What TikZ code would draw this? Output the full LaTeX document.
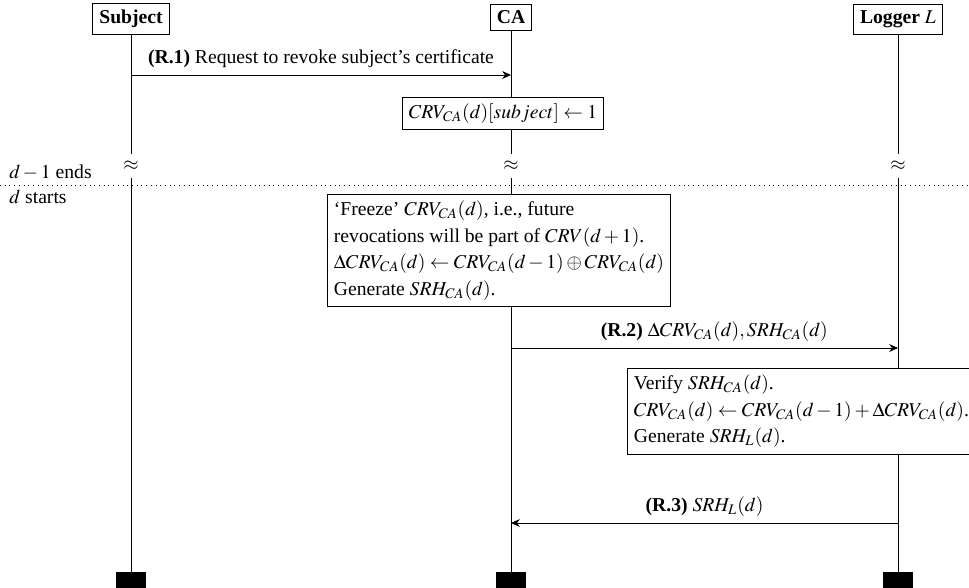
\documentclass[tikz,border=0pt]{standalone}
\usepackage{mathptmx}
\usepackage[no-math]{fontspec}
\setmainfont{Liberation Serif}
\usetikzlibrary{arrows.meta}
\begin{document}
\begin{tikzpicture}[x=0.509pt,y=-0.509pt,
  inst/.style={draw,fill=white,font=\bfseries,anchor=base},
  msg/.style={-{Stealth[length=4.5pt,width=4pt]}},
  actbox/.style={draw,fill=white,align=left,font=\fontsize{10}{13.5}\selectfont},
  endblock/.style={fill=black,anchor=north,minimum width=15pt,minimum height=10pt,inner sep=0pt},
  brk/.style={inner sep=0pt},
  daylabel/.style={anchor=base west,inner sep=0pt},
]
\useasboundingbox (0,0) rectangle (969,587);
\clip (0,0) rectangle (969,587);

% instances
\node[inst] (subj) at (131,23.5) {Subject};
\node[inst] (ca)   at (511,23.5) {CA};
\node[inst] (log)  at (898,23.5) {Logger $L$};

% lifeline breaks and ends
\coordinate (subjA) at (131,154);
\coordinate (caA)   at (511,154);
\coordinate (logA)  at (898,154);
\coordinate (subjB) at (131,178);
\coordinate (caB)   at (511,178);
\coordinate (logB)  at (898,178);
\node[brk] (subjW) at (131,166) {$\approx$};
\node[brk] (caW)   at (511,166) {$\approx$};
\node[brk] (logW)  at (898,166) {$\approx$};
\node[endblock] (subjEnd) at (131,572) {};
\node[endblock] (caEnd)   at (511,572) {};
\node[endblock] (logEnd)  at (898,572) {};

\draw (subj) -- (subjA);
\draw (ca)   -- (caA);
\draw (log)  -- (logA);
\draw (subjB) -- (subjEnd);
\draw (caB)   -- (caEnd);
\draw (logB)  -- (logEnd);

% day boundary
\coordinate (dayL) at (0,185);
\coordinate (dayR) at (969,185);
\draw[dotted] (dayL) -- (dayR);
\node[daylabel] (ends)   at (9,178) {$d-1$ ends};
\node[daylabel] (starts) at (9,203) {$d$ starts};

% (R.1)
\coordinate (r1s) at (131,75);
\coordinate (r1e) at (511,75);
\draw[msg] (r1s) -- node[above] {\textbf{(R.1)} Request to revoke subject’s certificate} (r1e);

\node[actbox] (upd) at (503,113.5) {$CRV_{CA}(d)[subject] \leftarrow 1$};

% CA freezes the day's vector
\node[actbox,anchor=north west] (freeze) at (327,194)
  {‘Freeze’ $CRV_{CA}(d)$, i.e., future\\
   revocations will be part of $CRV(d+1)$.\\
   $\Delta CRV_{CA}(d) \leftarrow CRV_{CA}(d-1) \oplus CRV_{CA}(d)$\\
   Generate $SRH_{CA}(d)$.};

% (R.2)
\coordinate (r2s) at (511,348);
\coordinate (r2e) at (898,348);
\draw[msg] (r2s) -- node[above,xshift=5pt] {\textbf{(R.2)} $\Delta CRV_{CA}(d), SRH_{CA}(d)$} (r2e);

% logger verifies and updates
\node[actbox,anchor=north west] (verify) at (627,368)
  {Verify $SRH_{CA}(d)$.\\
   $CRV_{CA}(d) \leftarrow CRV_{CA}(d-1) + \Delta CRV_{CA}(d)$.\\
   Generate $SRH_L(d)$.};

% (R.3)
\coordinate (r3s) at (898,523);
\coordinate (r3e) at (511,523);
\draw[msg] (r3s) -- node[above] {\textbf{(R.3)} $SRH_L(d)$} (r3e);
\end{tikzpicture}
\end{document}
